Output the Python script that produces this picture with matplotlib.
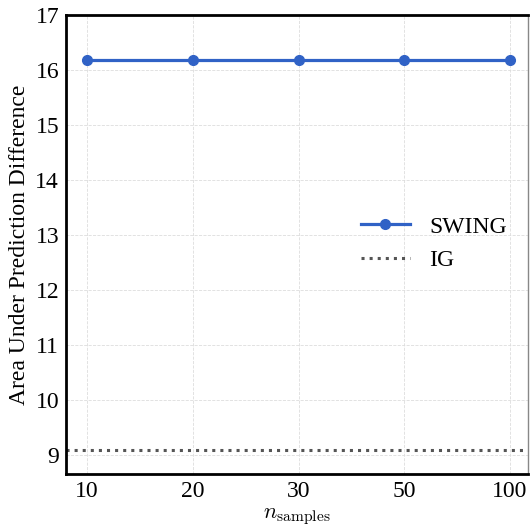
import numpy as np
import matplotlib.pyplot as plt

plt.rcParams['font.family'] = ['Liberation Serif', 'DejaVu Serif']
plt.rcParams['mathtext.fontset'] = 'cm'

n_samples = ['10', '20', '30', '50', '100']
swing = [16.19, 16.19, 16.19, 16.19, 16.19]
ig = 9.10

fig = plt.figure(figsize=(5.30, 5.27), dpi=100)
ax = fig.add_axes([66/530, 1 - 474/527, (528 - 66)/530, (474 - 15)/527])

x = np.arange(len(n_samples))
ax.plot(x, swing, '-o', color='#3062c6', lw=2.3, ms=7, label='SWING')
ax.axhline(ig, color='#555555', ls=':', lw=2.2, label='IG')

ax.set_xticks(x)
ax.set_xticklabels(n_samples)
ax.set_xlim(-0.2, 4.17)
ax.set_ylim(8.655, 17)
ax.set_yticks(range(9, 18))
ax.tick_params(labelsize=17, length=0, pad=5)
ax.grid(True, ls='--', lw=0.6, color='#dddddd')

for s in ['left', 'bottom', 'top']:
    ax.spines[s].set_linewidth(2)
    ax.spines[s].set_color('black')
ax.spines['right'].set_linewidth(1)
ax.spines['right'].set_color('#888888')

ax.set_xlabel(r'$n_{\mathrm{samples}}$', fontsize=16, labelpad=3)
ax.set_ylabel('Area Under Prediction Difference', fontsize=17, labelpad=4)

ax.legend(loc='center right', bbox_to_anchor=(1.0, 0.502), frameon=False,
          fontsize=17, handlelength=2.1)

fig.savefig('out.png', dpi=100)
